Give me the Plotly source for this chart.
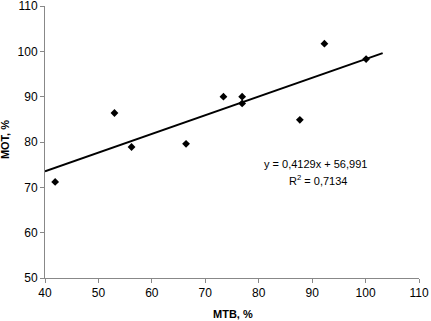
import plotly.graph_objects as go

mtb = [41.9, 53.0, 56.2, 66.4, 73.4, 76.9, 76.9, 87.7, 92.3, 100.1]
mot = [71.2, 86.4, 78.9, 79.6, 90.0, 90.0, 88.5, 84.9, 101.7, 98.3]
slope = 0.4129
intercept = 56.991
r2 = 0.7134
trend_x = [40, 103.2]
x_ticks = [40, 50, 60, 70, 80, 90, 100, 110]
y_ticks = [50, 60, 70, 80, 90, 100, 110]

trend_y = [slope * x + intercept for x in trend_x]

fig = go.Figure()
fig.add_trace(go.Scatter(x=trend_x, y=trend_y, mode="lines",
                         line=dict(color="black", width=2), showlegend=False))
fig.add_trace(go.Scatter(x=mtb, y=mot, mode="markers",
                         marker=dict(symbol="diamond", size=6, color="black"),
                         showlegend=False))

fnt = "Liberation Sans, Arial"
fig.add_annotation(xref="x", yref="y", x=90.7, y=75.1,
                   text=f"y = {str(slope).replace('.', ',')}x + {str(intercept).replace('.', ',')}",
                   showarrow=False, font=dict(size=11, color="black", family=fnt))
fig.add_annotation(xref="x", yref="y", x=91.1, y=71.6,
                   text=f"R<sup>2</sup> = {str(r2).replace('.', ',')}",
                   showarrow=False, font=dict(size=11, color="black", family=fnt))

# axis titles
fig.add_annotation(xref="paper", yref="paper", x=0.503, y=0, yshift=-36,
                   text="<b>MTB, %</b>", showarrow=False, yanchor="middle",
                   font=dict(size=11, color="black", family=fnt))
fig.add_annotation(xref="paper", yref="paper", x=0, xshift=-40, y=0.507,
                   text="<b>MOT, %</b>", showarrow=False, textangle=-90,
                   xanchor="center", yanchor="middle",
                   font=dict(size=11, color="black", family=fnt))

axis_common = dict(showgrid=False, zeroline=False, showline=True, linecolor="#888888",
                   linewidth=1, ticks="outside", ticklen=4, tickcolor="#888888",
                   automargin=False, ticklabeloverflow="allow",
                   tickfont=dict(size=12, color="black", family=fnt))

fig.update_xaxes(range=[40, 110], tickvals=x_ticks, **axis_common)
fig.update_yaxes(range=[50, 110], tickvals=y_ticks, **axis_common)

fig.update_layout(width=431, height=321, margin=dict(l=45, r=12, t=6, b=43),
                  plot_bgcolor="white", paper_bgcolor="white",
                  font=dict(family=fnt, color="black"))
fig.write_html("out.html", config={"displayModeBar": False},
               post_script="document.body.style.margin='0';document.body.style.overflow='hidden';")
